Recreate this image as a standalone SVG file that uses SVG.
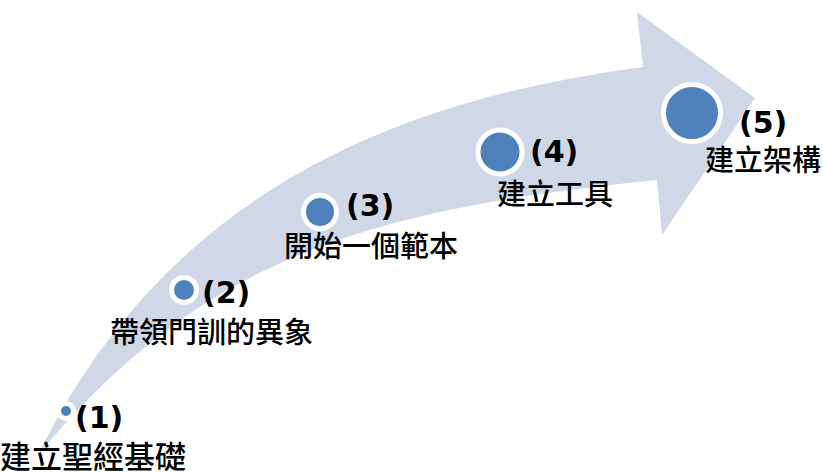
<svg xmlns="http://www.w3.org/2000/svg" width="823" height="472" viewBox="0 0 823 472">
<style>
.band{fill:#D0D8E8;stroke:none}
.dot{fill:#4F81BD;stroke:#FFFFFF;stroke-width:5}
.num{font-family:"DejaVu Sans","Verdana",sans-serif;font-weight:bold;font-size:30px;fill:#000}
.lbl{font-family:"Noto Sans CJK TC","Noto Sans CJK SC",sans-serif;font-weight:500;font-size:29px;fill:#000}
</style>
<rect width="823" height="472" fill="#FFFFFF"/>
<g id="connectors">
<path class="band" d="M38,455 C157,213 363,104 643,67 L637,12 L755,98 L662,235 L657,180 C357,210 198,263 38,455 Z"/>
</g>
<g id="node1">
<circle class="dot" cx="66" cy="411" r="7.5"/>
<text class="num" x="75" y="428">(1)</text>
<text class="lbl" x="0" y="468" style="font-size:31px">建立聖經基礎</text>
</g>
<g id="node2">
<circle class="dot" cx="184" cy="290" r="12.5"/>
<text class="num" x="202" y="303">(2)</text>
<text class="lbl" x="110" y="343">帶領門訓的異象</text>
</g>
<g id="node3">
<circle class="dot" cx="320" cy="212" r="16.5"/>
<text class="num" x="346" y="216">(3)</text>
<text class="lbl" x="284" y="257">開始一個範本</text>
</g>
<g id="node4">
<circle class="dot" cx="500" cy="152" r="22"/>
<text class="num" x="530" y="162">(4)</text>
<text class="lbl" x="497" y="205">建立工具</text>
</g>
<g id="node5">
<circle class="dot" cx="692" cy="113" r="28.5"/>
<text class="num" x="739" y="133">(5)</text>
<text class="lbl" x="705" y="171">建立架構</text>
</g>
</svg>
